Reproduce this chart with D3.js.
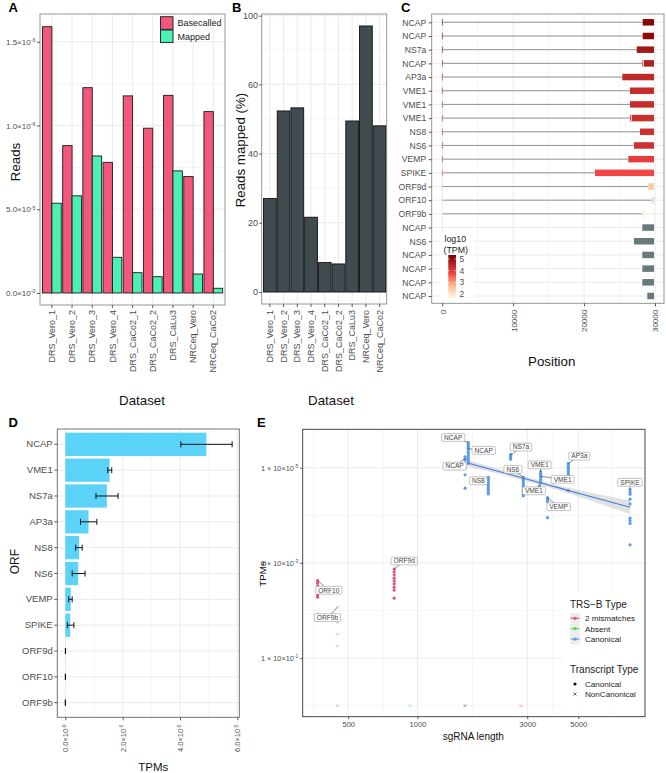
<!DOCTYPE html>
<html><head><meta charset="utf-8">
<script src="https://cdn.jsdelivr.net/npm/d3@7"></script>
<style>body{margin:0;background:#fff} svg{display:block}</style>
</head><body><svg id="fig" width="666" height="773"></svg>
<script>
// ================= DATA =================
// Panel A / B
const datasets = ["DRS_Vero_1","DRS_Vero_2","DRS_Vero_3","DRS_Vero_4","DRS_CaCo2_1","DRS_CaCo2_2","DRS_CaLu3","NRCeq_Vero","NRCeq_CaCo2"];
const basecalled = [1.59,0.88,1.226,0.78,1.177,0.984,1.18,0.695,1.083];   // x10^6 reads
const mapped     = [0.536,0.58,0.818,0.213,0.121,0.097,0.729,0.113,0.028];
const aTicks = [0,0.5,1.0,1.5];
const aTickLabels = [["0.0","-0"],["5.0","-5"],["1.0","-6"],["1.5","-6"]];
const aMinor = [0.25,0.75,1.25];
const pctMapped = [27.0,52.3,53.2,21.6,8.5,8.1,49.4,94.0,48.0];
const bTicks = [0,20,40,60,100];
const bMinor = [10,30,50,80];

// Panel C
const cLabels = ["NCAP","NCAP","NS7a","NCAP","AP3a","VME1","VME1","VME1","NS8","NS6","VEMP","SPIKE","ORF9d","ORF10","ORF9b","NCAP","NS6","NCAP","NCAP","NCAP","NCAP"];
const cStart  = [28265,28265,27419,28209,25388,26474,26474,26474,27884,27038,26234,21537,29055,29535,28209,28209,27038,28209,28209,28209,28914];
const cEnd    = [29860,29860,29860,29860,29860,29860,29860,29860,29860,29860,29860,29860,29860,29860,28590,29860,29860,29860,29860,29860,29860];
const cGap    = [null,null,null,28350,null,null,null,26650,null,null,null,null,null,null,null,null,null,null,null,null,null];
const cLogTPM = [5.2,5.1,4.8,4.6,4.4,4.3,4.3,4.25,4.2,4.2,3.9,3.7,2.5,2.2,1.8,null,null,null,null,null,null];
const cLeader = [1,1,1,1,1,1,1,1,1,1,1,1,1,1,1,0,0,0,0,0,0];
const cTicks = [0,10000,20000,30000];
const cMinor = [5000,15000,25000];
const cLegendTicks = [2,3,4,5];

// Panel D
const orfs    = ["NCAP","VME1","NS7a","AP3a","NS8","NS6","VEMP","SPIKE","ORF9d","ORF10","ORF9b"];
const tpmMean = [4.92,1.545,1.45,0.81,0.48,0.45,0.19,0.17,0.006,0.003,0.002];  // x10^5
const tpmLo   = [4.03,1.48,1.07,0.53,0.36,0.24,0.12,0.07,0.003,0.001,0.001];
const tpmHi   = [5.82,1.62,1.84,1.10,0.59,0.69,0.24,0.30,0.010,0.006,0.004];
const dTicks = [0,2,4,6];
const dTickLabels = [["0.0","-0"],["2.0","-5"],["4.0","-5"],["6.0","-5"]];
const dMinor = [1,3,5];

// Panel E
const eLen = [1662,1610,2031,2542,2883,3431,3390,3675,4525,8393,792,368,449,368,927,1610,1610,2817];
const eTRS = ["Canonical","Canonical","Canonical","Canonical","Canonical","Canonical","Canonical","Canonical","Canonical","Canonical","2 mismatches","2 mismatches","Canonical","2 mismatches","Absent","Canonical","2 mismatches","2 mismatches"];
const eTx  = ["Canonical","Canonical","Canonical","Canonical","Canonical","Canonical","Canonical","Canonical","Canonical","Canonical","Canonical","Canonical","NonCanonical","NonCanonical","NonCanonical","NonCanonical","NonCanonical","NonCanonical"];
const eLogTPM = [
  [5.53,5.49,5.45,5.41,5.37,5.33,5.29,5.25,5.21,5.17,5.13,5.09],
  [5.23,5.19,5.16,4.99,4.85,4.57],
  [4.80,4.76,4.72,4.68,4.64,4.60,4.56,4.52,4.48,4.45],
  [5.28,5.25,5.21,5.18],
  [4.80,4.76,4.72,4.68,4.64,4.60,4.56,4.52,4.48,4.44,4.41],
  [4.92,4.88,4.84,4.80,4.76,4.72,4.68],
  [4.62,4.55,4.48],
  [4.37,4.33,4.29,3.95],
  [5.09,5.05,5.01,4.97,4.93,4.89,4.85,4.81,4.52],
  [4.54,4.49,4.44,4.34,4.24,3.94,3.89,3.83,3.38],
  [2.87,2.81,2.75,2.68,2.62,2.56,2.49,2.43,2.26],
  [2.63,2.58,2.52,2.45,2.33,2.28],
  [2.07,1.75,1.50,1.25,0],
  [1.93],
  [0],
  [0],
  [0],
  [0]
];
const eFitLen = [1636,2500,3415,5000,8393];
const eFitLog = [5.105,4.861,4.685,4.464,4.168];
const eFitSE  = [0.069,0.048,0.046,0.067,0.143];
const eLabText = ["NCAP","NCAP","NCAP","NS7a","NS6","VME1","VME1","VME1","NS8","AP3a","SPIKE","VEMP","ORF9d","ORF10","ORF9b"];
const eLabLen  = [1662,1662,1610,2542,2883,3431,3431,3390,2031,4525,8393,3675,792,368,449];
const eLabLog  = [5.53,5.40,5.19,5.26,4.80,4.92,4.82,4.62,4.76,5.09,4.54,4.37,2.87,2.63,2.07];
const eXTicks = [500,1000,3000,5000];
const eXMinor = [354,707,1732,3873,7071];
const eYTicks = [5,3,1];
const eYTickLabels = [["1 × 10","-5"],["1 × 10","-3"],["1 × 10","-1"]];
const eYMinor = [4,2,0];
const trsLevels = ["2 mismatches","Absent","Canonical"];
const txLevels = ["Canonical","NonCanonical"];

// ================= LAYOUT / STYLE =================
const FONT = '"Liberation Sans", Arial, Helvetica, sans-serif';
const TXT = '#4d4d4d', GMAJ = '#e6e6e6', GMIN = '#f3f3f3';
// label box offsets (px) for panel E repel labels
const eLabOff = [[-15,-5],[15.5,1.7],[-10.5,7.5],[10.2,-8.3],[-10.4,-7.9],[-1,-6.7],[22,3],[-5.5,5],[-9.9,1.7],[11,-7.3],[0,-7.3],[11,9],[10,-8.1],[11.2,9.7],[-10,10.5]];

const svg = d3.select('#fig').attr('font-family', FONT);
svg.append('rect').attr('width',666).attr('height',773).attr('fill','#fff');

function sci(sel, pair) {
  sel.text(null);
  sel.append('tspan').text(pair[0] + '×10');
  sel.append('tspan').attr('dy','-0.5em').attr('font-size','68%').text(pair[1]);
}
function styleAxis(g, fs) {
  g.attr('font-family', FONT).attr('font-size', fs);
  g.select('.domain').remove();
  g.selectAll('.tick line').attr('stroke','#333').attr('stroke-width',0.8);
  g.selectAll('.tick text').attr('fill', TXT);
}
function rotateLabels(g, off) {
  g.selectAll('.tick text').attr('transform','rotate(-90)').attr('text-anchor','end')
    .attr('x',-off).attr('y',0).attr('dy','0.35em');
}
function hLines(g, vals, sc, x0, x1, col) {
  g.append('g').selectAll('line').data(vals).join('line')
    .attr('x1',x0).attr('x2',x1).attr('y1',d=>sc(d)).attr('y2',d=>sc(d))
    .attr('stroke',col).attr('stroke-width',0.8);
}
function vLines(g, vals, sc, y0, y1, col) {
  g.append('g').selectAll('line').data(vals).join('line')
    .attr('y1',y0).attr('y2',y1).attr('x1',d=>sc(d)).attr('x2',d=>sc(d))
    .attr('stroke',col).attr('stroke-width',0.8);
}
function border(g, x0, y0, x1, y1, col) {
  g.append('rect').attr('x',x0).attr('y',y0).attr('width',x1-x0).attr('height',y1-y0)
    .attr('fill','none').attr('stroke',col).attr('stroke-width',0.9);
}
function panelLabel(t, x, y) {
  svg.append('text').attr('x',x).attr('y',y).attr('font-size',13).attr('font-weight','bold').text(t);
}
function title(t, x, y, rot, fs) {
  svg.append('text').attr('transform',`translate(${x},${y})` + (rot ? ' rotate(-90)' : ''))
    .attr('text-anchor','middle').attr('font-size',fs).attr('fill','#111').text(t);
}

// ================= PANEL A =================
{
  const P = {x0:40,x1:225,y0:14,y1:305};
  const g = svg.append('g');
  const x = d3.scaleBand().domain(datasets).range([42.5,222.7]).paddingInner(0.07);
  const y = d3.scaleLinear().domain([-0.072,1.666]).range([P.y1,P.y0]);
  hLines(g, aMinor, y, P.x0, P.x1, GMIN);
  hLines(g, aTicks, y, P.x0, P.x1, GMAJ);
  vLines(g, datasets, d=>x(d)+x.bandwidth()/2, P.y0, P.y1, GMAJ);
  const bw = x.bandwidth()/2;
  g.append('g').selectAll('rect').data(datasets).join('rect')
    .attr('x',d=>x(d)).attr('width',bw).attr('y',(d,i)=>y(basecalled[i])).attr('height',(d,i)=>y(0)-y(basecalled[i]))
    .attr('fill','#f2577c').attr('stroke','#1a1a1a').attr('stroke-width',0.9);
  g.append('g').selectAll('rect').data(datasets).join('rect')
    .attr('x',d=>x(d)+bw).attr('width',bw).attr('y',(d,i)=>y(mapped[i])).attr('height',(d,i)=>y(0)-y(mapped[i]))
    .attr('fill','#4cf0b2').attr('stroke','#1a1a1a').attr('stroke-width',0.9);
  border(g, P.x0, P.y0, P.x1, P.y1, '#8a8a8a');
  const ay = g.append('g').attr('transform',`translate(${P.x0},0)`)
    .call(d3.axisLeft(y).tickValues(aTicks).tickSize(3).tickPadding(1.5));
  styleAxis(ay, 8);
  ay.selectAll('.tick text').each(function(d,i){ sci(d3.select(this), aTickLabels[i]); });
  const ax = g.append('g').attr('transform',`translate(0,${P.y1})`).call(d3.axisBottom(x).tickSize(3));
  styleAxis(ax, 9);
  rotateLabels(ax, 5);
  // legend
  const lg = g.append('g');
  const keys = [["Basecalled","#f2577c"],["Mapped","#4cf0b2"]];
  keys.forEach((k,i)=>{
    lg.append('rect').attr('x',160.5).attr('y',16.7+i*13.3).attr('width',12.5).attr('height',12.6)
      .attr('fill',k[1]).attr('stroke','#1a1a1a').attr('stroke-width',0.9);
    lg.append('text').attr('x',177.5).attr('y',26.3+i*13.3).attr('font-size',9).attr('fill','#222').text(k[0]);
  });
  title('Reads', 19.5, 162, true, 13.3);
  title('Dataset', 142, 405, false, 13.3);
  panelLabel('A', 8.5, 12);
}

// ================= PANEL B =================
{
  const P = {x0:261.7,x1:386.7,y0:14,y1:304};
  const g = svg.append('g');
  const x = d3.scaleBand().domain(datasets).range([263.5,386]).paddingInner(0.07);
  const y = d3.scaleLinear().domain([0,60,100]).range([292,84.3,15.7]);
  hLines(g, bMinor, y, P.x0, P.x1, GMIN);
  hLines(g, bTicks, y, P.x0, P.x1, GMAJ);
  vLines(g, datasets, d=>x(d)+x.bandwidth()/2, P.y0, P.y1, GMAJ);
  g.append('g').selectAll('rect').data(datasets).join('rect')
    .attr('x',d=>x(d)).attr('width',x.bandwidth()).attr('y',(d,i)=>y(pctMapped[i])).attr('height',(d,i)=>y(0)-y(pctMapped[i]))
    .attr('fill','#404b50').attr('stroke','#111').attr('stroke-width',0.9);
  border(g, P.x0, P.y0, P.x1, P.y1, '#8a8a8a');
  const ay = g.append('g').attr('transform',`translate(${P.x0},0)`)
    .call(d3.axisLeft(y).tickValues(bTicks).tickSize(2.5).tickPadding(1.2));
  styleAxis(ay, 9);
  const ax = g.append('g').attr('transform',`translate(0,${P.y1})`).call(d3.axisBottom(x).tickSize(3));
  styleAxis(ax, 9);
  rotateLabels(ax, 6);
  title('Reads mapped (%)', 244.5, 150, true, 13.3);
  title('Dataset', 331, 405, false, 13.3);
  panelLabel('B', 232, 12);
}

// ================= PANEL C =================
{
  const P = {x0:431.7,x1:664,y0:14,y1:303.3};
  const g = svg.append('g');
  const x = d3.scaleLinear().domain([-1495,31269]).range([P.x0,P.x1]);
  const rows = d3.range(cLabels.length);
  const y = d3.scalePoint().domain(rows).range([22.3,296]);
  const col = d3.scaleLinear().domain([1.65,2.6,3.7,5.33])
    .range(["#fff4e2","#f9c59c","#f24646","#7d0000"]).interpolate(d3.interpolateLab);
  const NA = '#687a7b';
  vLines(g, cMinor, x, P.y0, P.y1, GMIN);
  vLines(g, cTicks, x, P.y0, P.y1, GMAJ);
  hLines(g, rows, y, P.x0, P.x1, GMAJ);
  const h = 6.5;
  g.append('g').selectAll('line').data(rows.filter(i=>cLeader[i])).join('line')
    .attr('x1',x(0)).attr('x2',i=>x(cStart[i])).attr('y1',i=>y(i)).attr('y2',i=>y(i))
    .attr('stroke','#8c8c8c').attr('stroke-width',0.9);
  g.append('g').selectAll('rect').data(rows.filter(i=>cLeader[i])).join('rect')
    .attr('x',x(0)-0.4).attr('width',Math.max(0.9,x(72)-x(0))).attr('y',i=>y(i)-h/2).attr('height',h)
    .attr('fill',i=>col(cLogTPM[i])).attr('opacity',0.7);
  g.append('g').selectAll('rect').data(rows).join('rect')
    .attr('x',i=>x(cStart[i])).attr('width',i=>x(cEnd[i])-x(cStart[i]))
    .attr('y',i=>y(i)-h/2).attr('height',h)
    .attr('fill',i=>cLogTPM[i]==null?NA:col(cLogTPM[i]));
  g.append('g').selectAll('line').data(rows.filter(i=>cGap[i]!=null)).join('line')
    .attr('x1',i=>x(cGap[i])).attr('x2',i=>x(cGap[i])).attr('y1',i=>y(i)-h/2).attr('y2',i=>y(i)+h/2)
    .attr('stroke','#fff').attr('stroke-width',0.9);
  border(g, P.x0, P.y0, P.x1, P.y1, '#8a8a8a');
  const ay = g.append('g').attr('transform',`translate(${P.x0},0)`)
    .call(d3.axisLeft(y).tickSize(3).tickPadding(2.5).tickFormat(i=>cLabels[i]));
  styleAxis(ay, 8.6);
  const ax = g.append('g').attr('transform',`translate(0,${P.y1})`)
    .call(d3.axisBottom(x).tickValues(cTicks).tickSize(3).tickFormat(d3.format('d')));
  styleAxis(ax, 8);
  rotateLabels(ax, 6.5);
  // legend
  const lg = g.append('g');
  lg.append('rect').attr('x',440).attr('y',232).attr('width',34).attr('height',70).attr('fill','#fff');
  lg.append('text').attr('x',444.5).attr('y',242.2).attr('font-size',8.8).attr('fill','#222').text('log10');
  lg.append('text').attr('x',443.5).attr('y',253).attr('font-size',8.8).attr('fill','#222').text('(TPM)');
  const ly = d3.scaleLinear().domain([1.65,5.33]).range([298.3,255]);
  const defs = svg.append('defs');
  const grad = defs.append('linearGradient').attr('id','cgrad').attr('x1',0).attr('y1',1).attr('x2',0).attr('y2',0);
  d3.range(0,1.0001,0.05).forEach(t=>{
    grad.append('stop').attr('offset',t).attr('stop-color',col(1.65+t*(5.33-1.65)));
  });
  lg.append('rect').attr('x',448.3).attr('y',255).attr('width',7.7).attr('height',43.3).attr('fill','url(#cgrad)');
  lg.selectAll('.lt').data(cLegendTicks).join('g').each(function(d){
    const s = d3.select(this);
    s.append('line').attr('x1',448.3).attr('x2',449.8).attr('y1',ly(d)).attr('y2',ly(d)).attr('stroke','#fff').attr('stroke-width',0.6);
    s.append('line').attr('x1',454.5).attr('x2',456).attr('y1',ly(d)).attr('y2',ly(d)).attr('stroke','#fff').attr('stroke-width',0.6);
    s.append('text').attr('x',459.5).attr('y',ly(d)).attr('dy','0.35em').attr('font-size',8.5).attr('fill',TXT).text(d);
  });
  title('Position', 551.7, 366, false, 13.3);
  panelLabel('C', 401, 12);
}

// ================= PANEL D =================
{
  const P = {x0:57.3,x1:239.3,y0:429,y1:717.3};
  const g = svg.append('g');
  const x = d3.scaleLinear().domain([-0.279,6.07]).range([P.x0,P.x1]);
  const y = d3.scaleBand().domain(orfs).range([431.4,715.6]).paddingInner(0.1).paddingOuter(0.05);
  vLines(g, dMinor, x, P.y0, P.y1, GMIN);
  vLines(g, dTicks, x, P.y0, P.y1, GMAJ);
  hLines(g, orfs, d=>y(d)+y.bandwidth()/2, P.x0, P.x1, GMAJ);
  g.append('g').selectAll('rect').data(orfs).join('rect')
    .attr('x',x(0)).attr('y',d=>y(d)).attr('height',y.bandwidth())
    .attr('width',(d,i)=>x(tpmMean[i])-x(0)).attr('fill','#5bd2f7');
  const eb = g.append('g').selectAll('g').data(orfs).join('g');
  const cy = d=>y(d)+y.bandwidth()/2;
  eb.append('line').attr('x1',(d,i)=>x(tpmLo[i])).attr('x2',(d,i)=>x(tpmHi[i])).attr('y1',cy).attr('y2',cy)
    .attr('stroke','#111').attr('stroke-width',1);
  eb.append('line').attr('x1',(d,i)=>x(tpmLo[i])).attr('x2',(d,i)=>x(tpmLo[i])).attr('y1',d=>cy(d)-3).attr('y2',d=>cy(d)+3)
    .attr('stroke','#111').attr('stroke-width',1);
  eb.append('line').attr('x1',(d,i)=>x(tpmHi[i])).attr('x2',(d,i)=>x(tpmHi[i])).attr('y1',d=>cy(d)-3).attr('y2',d=>cy(d)+3)
    .attr('stroke','#111').attr('stroke-width',1);
  border(g, P.x0, P.y0, P.x1, P.y1, '#666');
  const ay = g.append('g').attr('transform',`translate(${P.x0},0)`).call(d3.axisLeft(y).tickSize(3).tickPadding(1.6));
  styleAxis(ay, 9.5);
  const ax = g.append('g').attr('transform',`translate(0,${P.y1})`).call(d3.axisBottom(x).tickValues(dTicks).tickSize(3));
  styleAxis(ax, 7.5);
  ax.selectAll('.tick text').each(function(d,i){ sci(d3.select(this), dTickLabels[i]); });
  rotateLabels(ax, 7);
  title('ORF', 19, 561.7, true, 12);
  title('TPMs', 153.3, 771, false, 11.5);
  panelLabel('D', 8.5, 427);
}

// ================= PANEL E =================
{
  const P = {x0:302.7,x1:645,y0:429.3,y1:716.7};
  const g = svg.append('g');
  const x = d3.scaleLog().domain([317,9748]).range([P.x0,P.x1]);
  const y = d3.scaleLog().domain([Math.pow(10,-0.231),Math.pow(10,5.807)]).range([P.y1,P.y0]);
  const yl = v => y(Math.pow(10,v));
  const trsCol = d3.scaleOrdinal().domain(trsLevels).range(["#e4517f","#5fd35a","#5b9be8"]);
  hLines(g, eYMinor, yl, P.x0, P.x1, GMIN);
  hLines(g, eYTicks, yl, P.x0, P.x1, GMAJ);
  vLines(g, eXMinor, x, P.y0, P.y1, GMIN);
  vLines(g, eXTicks, x, P.y0, P.y1, GMAJ);
  const pts = [];
  eLen.forEach((L,i)=>eLogTPM[i].forEach(v=>pts.push({len:L, v, trs:eTRS[i], tx:eTx[i]})));
  g.append('g').selectAll('circle').data(pts.filter(p=>p.tx==='Canonical')).join('circle')
    .attr('cx',p=>x(p.len)).attr('cy',p=>yl(p.v)).attr('r',1.6).attr('fill',p=>trsCol(p.trs));
  g.append('g').selectAll('path').data(pts.filter(p=>p.tx==='NonCanonical')).join('path')
    .attr('d',p=>{const cx=x(p.len), cy=yl(p.v), s=1.5; return `M${cx-s},${cy-s}L${cx+s},${cy+s}M${cx-s},${cy+s}L${cx+s},${cy-s}`;})
    .attr('stroke',p=>trsCol(p.trs)).attr('stroke-width',0.8).attr('opacity',0.5).attr('fill','none');
  const fit = eFitLen.map((L,i)=>({L, v:eFitLog[i], se:eFitSE[i]}));
  g.append('path').datum(fit)
    .attr('d', d3.area().x(d=>x(d.L)).y0(d=>yl(d.v-d.se)).y1(d=>yl(d.v+d.se)).curve(d3.curveMonotoneX))
    .attr('fill','#9a9a9a').attr('opacity',0.3);
  g.append('path').datum(fit)
    .attr('d', d3.line().x(d=>x(d.L)).y(d=>yl(d.v)).curve(d3.curveMonotoneX))
    .attr('fill','none').attr('stroke','#3d7fdc').attr('stroke-width',1.1);
  const lab = g.append('g');
  eLabText.forEach((t,i)=>{
    const px = x(eLabLen[i]), py = yl(eLabLog[i]);
    const cx = px + eLabOff[i][0], cy = py + eLabOff[i][1];
    lab.append('line').attr('x1',px).attr('y1',py).attr('x2',cx).attr('y2',cy).attr('stroke','#444').attr('stroke-width',0.6);
  });
  eLabText.forEach((t,i)=>{
    const px = x(eLabLen[i]), py = yl(eLabLog[i]);
    const cx = px + eLabOff[i][0], cy = py + eLabOff[i][1];
    const tx = lab.append('text').attr('x',cx).attr('y',cy).attr('dy','0.35em').attr('text-anchor','middle')
      .attr('font-size',6.6).attr('fill','#444').text(t);
    const w = tx.node().getComputedTextLength() + 5;
    lab.insert('rect', () => tx.node()).attr('x',cx-w/2).attr('y',cy-3.9).attr('width',w).attr('height',7.8)
      .attr('rx',1.3).attr('fill','#fff').attr('stroke','#999').attr('stroke-width',0.6);
  });
  border(g, P.x0, P.y0, P.x1, P.y1, '#333');
  const ay = g.append('g').attr('transform',`translate(${P.x0},0)`)
    .call(d3.axisLeft(y).tickValues(eYTicks.map(v=>Math.pow(10,v))).tickSize(2.5).tickPadding(2));
  styleAxis(ay, 7.3);
  ay.selectAll('.tick text').each(function(d,i){ sci(d3.select(this), eYTickLabels[i]); });
  const ax = g.append('g').attr('transform',`translate(0,${P.y1})`)
    .call(d3.axisBottom(x).tickValues(eXTicks).tickSize(2.5).tickPadding(2).tickFormat(d3.format('d')));
  styleAxis(ax, 7.6);
  // legend
  const lg = g.append('g');
  lg.append('rect').attr('x',562).attr('y',592).attr('width',82).attr('height',118).attr('fill','#fff');
  lg.append('text').attr('x',570).attr('y',607.6).attr('font-size',10).attr('fill','#222').text('TRS\u2212B Type');
  trsLevels.forEach((t,i)=>{
    const cy = 618.3 + i*10.4;
    lg.append('rect').attr('x',570.3).attr('y',cy-5.2).attr('width',9.4).attr('height',10.4).attr('fill','#ececec');
    lg.append('line').attr('x1',570.5).attr('x2',579.5).attr('y1',cy).attr('y2',cy).attr('stroke',trsCol(t)).attr('stroke-width',1.1);
    lg.append('circle').attr('cx',575).attr('cy',cy).attr('r',1.6).attr('fill',trsCol(t));
    lg.append('text').attr('x',585).attr('y',cy).attr('dy','0.35em').attr('font-size',8.1).attr('fill','#222').text(t);
  });
  lg.append('text').attr('x',570).attr('y',673).attr('font-size',10).attr('fill','#222').text('Transcript Type');
  txLevels.forEach((t,i)=>{
    const cy = 684 + i*10;
    if (i===0) lg.append('circle').attr('cx',575).attr('cy',cy).attr('r',1.6).attr('fill','#111');
    else lg.append('path').attr('d',`M573.5,${cy-1.5}L576.5,${cy+1.5}M573.5,${cy+1.5}L576.5,${cy-1.5}`).attr('stroke','#333').attr('stroke-width',0.7);
    lg.append('text').attr('x',585).attr('y',cy).attr('dy','0.35em').attr('font-size',8.1).attr('fill','#222').text(t);
  });
  title('TPMs', 266, 574, true, 9.8);
  title('sgRNA length', 473.3, 740, false, 10);
  panelLabel('E', 257, 427);
}
</script>
</body></html>
